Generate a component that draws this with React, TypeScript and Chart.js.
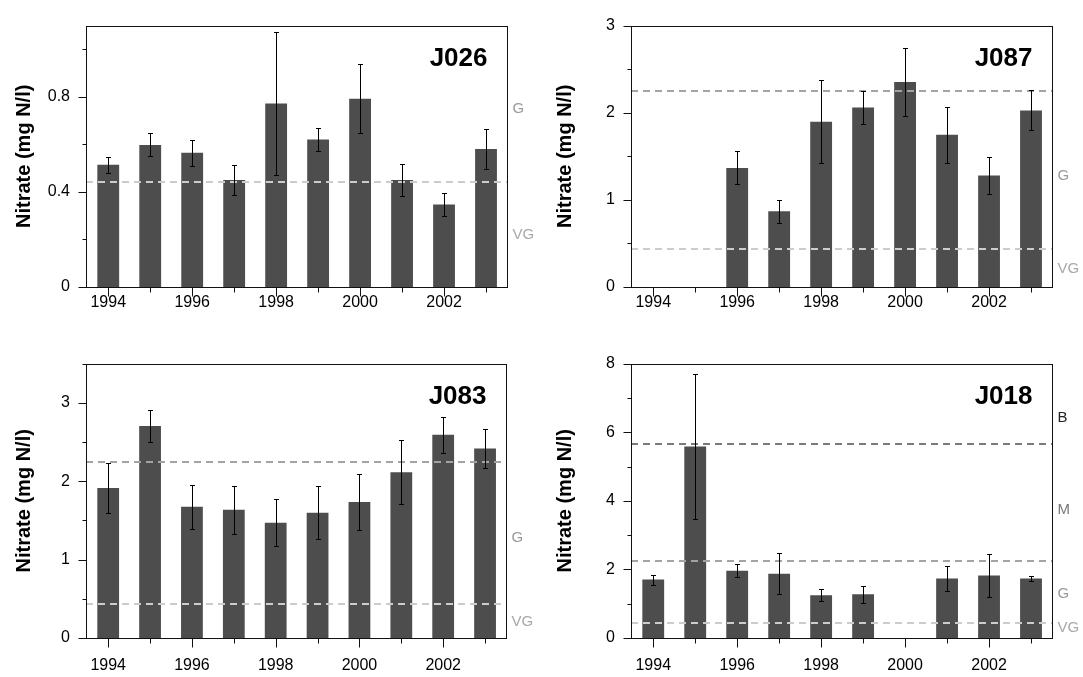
import React, { useEffect, useRef } from "react";
import { Chart, registerables } from "chart.js";

Chart.register(...registerables);

// ---------- data ----------
const years = [1994, 1995, 1996, 1997, 1998, 1999, 2000, 2001, 2002, 2003];
const labeledYears = [1994, 1996, 1998, 2000, 2002];

const j026Mean = [0.514, 0.598, 0.565, 0.45, 0.772, 0.621, 0.792, 0.45, 0.347, 0.581];
const j026Err = [0.033, 0.048, 0.054, 0.063, 0.3, 0.05, 0.145, 0.066, 0.049, 0.085];

const j087Mean = [null, null, 1.367, 0.869, 1.897, 2.06, 2.352, 1.746, 1.28, 2.027];
const j087Err = [null, null, 0.19, 0.133, 0.476, 0.186, 0.39, 0.325, 0.215, 0.23];

const j083Mean = [1.913, 2.705, 1.673, 1.635, 1.47, 1.597, 1.736, 2.115, 2.592, 2.418];
const j083Err = [0.32, 0.2, 0.28, 0.31, 0.3, 0.34, 0.36, 0.41, 0.23, 0.245];

const j018Mean = [1.704, 5.583, 1.963, 1.876, 1.244, 1.273, null, 1.733, 1.819, 1.733];
const j018Err = [0.145, 2.12, 0.19, 0.6, 0.17, 0.25, null, 0.36, 0.62, 0.08];

// class boundaries (VG/G, G/M, M/B)
const classLimits = [0.44, 2.25, 5.65];
const classLimitColors = ["#cccccc", "#a3a3a3", "#7a7a7a"];

// class labels on right side: text and value where they sit
const j026ClassText = ["G", "VG"];
const j026ClassAt = [0.75, 0.22];
const j087ClassText = ["G", "VG"];
const j087ClassAt = [1.27, 0.21];
const j083ClassText = ["G", "VG"];
const j083ClassAt = [1.28, 0.21];
const j018ClassText = ["B", "M", "G", "VG"];
const j018ClassAt = [6.42, 3.74, 1.29, 0.29];
const classTextColors: Record<string, string> = { B: "#222222", M: "#777777", G: "#9a9a9a", VG: "#a8a8a8" };

// y ticks
const j026YMajor = [0, 0.4, 0.8];
const j026YMinor = [0.2, 0.6, 1.0];
const j087YMajor = [0, 1, 2, 3];
const j087YMinor = [0.5, 1.5, 2.5];
const j083YMajor = [0, 1, 2, 3];
const j083YMinor = [0.5, 1.5, 2.5, 3.5];
const j018YMajor = [0, 2, 4, 6, 8];
const j018YMinor = [1, 3, 5, 7];

const yMaxes = [1.1, 3, 3.5, 8];
const stationNames = ["J026", "J087", "J083", "J018"];
const yTitle = "Nitrate (mg N/l)";

const FONT = "'Liberation Sans', Arial, Helvetica, sans-serif";
const BAR = "#4d4d4d";

type Panel = {
  name: string;
  mean: (number | null)[];
  err: (number | null)[];
  yMax: number;
  yMajor: number[];
  yMinor: number[];
  classText: string[];
  classAt: number[];
  cx: number;
  cy: number;
  cw: number;
  ch: number;
  padTop: number;
  padRight: number;
  yAxisW: number;
  xAxisH: number;
  xPad: number;
};

const PANELS: Panel[] = [
  {
    name: stationNames[0], mean: j026Mean, err: j026Err, yMax: yMaxes[0],
    yMajor: j026YMajor, yMinor: j026YMinor, classText: j026ClassText, classAt: j026ClassAt,
    cx: 0, cy: 0, cw: 541, ch: 338, padTop: 10, padRight: 34, yAxisW: 86, xAxisH: 51, xPad: 6,
  },
  {
    name: stationNames[1], mean: j087Mean, err: j087Err, yMax: yMaxes[1],
    yMajor: j087YMajor, yMinor: j087YMinor, classText: j087ClassText, classAt: j087ClassAt,
    cx: 541, cy: 0, cw: 542, ch: 338, padTop: 10, padRight: 31, yAxisW: 90, xAxisH: 51, xPad: 6,
  },
  {
    name: stationNames[2], mean: j083Mean, err: j083Err, yMax: yMaxes[2],
    yMajor: j083YMajor, yMinor: j083YMinor, classText: j083ClassText, classAt: j083ClassAt,
    cx: 0, cy: 338, cw: 541, ch: 339, padTop: 23, padRight: 35, yAxisW: 86, xAxisH: 39, xPad: 18,
  },
  {
    name: stationNames[3], mean: j018Mean, err: j018Err, yMax: yMaxes[3],
    yMajor: j018YMajor, yMinor: j018YMinor, classText: j018ClassText, classAt: j018ClassAt,
    cx: 541, cy: 338, cw: 542, ch: 339, padTop: 22, padRight: 31, yAxisW: 90, xAxisH: 39, xPad: 18,
  },
];

function overlayPlugin(p: Panel) {
  return {
    id: "overlay" + p.name,
    afterDatasetsDraw(chart: any) {
      const ctx = chart.ctx as CanvasRenderingContext2D;
      const { left, right } = chart.chartArea;
      const xs = chart.scales.x;
      const ys = chart.scales.y;
      ctx.save();
      ctx.lineWidth = 2;
      ctx.setLineDash([7, 5]);
      classLimits.forEach((lim, i) => {
        if (lim >= p.yMax) return;
        const y = Math.round(ys.getPixelForValue(lim));
        ctx.strokeStyle = classLimitColors[i];
        ctx.beginPath();
        ctx.moveTo(left, y);
        ctx.lineTo(right, y);
        ctx.stroke();
      });
      ctx.setLineDash([]);
      ctx.strokeStyle = "#000";
      ctx.lineWidth = 1;
      years.forEach((yr, i) => {
        const m = p.mean[i];
        const e = p.err[i];
        if (m == null || e == null) return;
        const x = Math.round(xs.getPixelForValue(yr)) + 0.5;
        const yt = Math.round(ys.getPixelForValue(m + e)) + 0.5;
        const yb = Math.round(ys.getPixelForValue(m - e)) + 0.5;
        ctx.beginPath();
        ctx.moveTo(x, yt);
        ctx.lineTo(x, yb);
        ctx.moveTo(x - 2.5, yt);
        ctx.lineTo(x + 2.5, yt);
        ctx.moveTo(x - 2.5, yb);
        ctx.lineTo(x + 2.5, yb);
        ctx.stroke();
      });
      ctx.restore();
    },
    afterDraw(chart: any) {
      const ctx = chart.ctx as CanvasRenderingContext2D;
      const { left, right, top, bottom } = chart.chartArea;
      const xs = chart.scales.x;
      const ys = chart.scales.y;
      ctx.save();
      ctx.strokeStyle = "#111";
      ctx.lineWidth = 1;
      const L = Math.round(left) + 0.5;
      const R = Math.round(right) + 0.5;
      const T = Math.round(top) + 0.5;
      const B = Math.round(bottom) + 0.5;
      ctx.strokeRect(L, T, R - L, B - T);
      ctx.beginPath();
      p.yMajor.forEach((v) => {
        const y = Math.round(ys.getPixelForValue(v)) + 0.5;
        ctx.moveTo(L - 8, y);
        ctx.lineTo(L, y);
      });
      p.yMinor.forEach((v) => {
        const y = Math.round(ys.getPixelForValue(v)) + 0.5;
        ctx.moveTo(L - 4, y);
        ctx.lineTo(L, y);
      });
      years.forEach((yr) => {
        const x = Math.round(xs.getPixelForValue(yr)) + 0.5;
        const len = labeledYears.includes(yr) ? 9 : 5;
        ctx.moveTo(x, B);
        ctx.lineTo(x, B + len);
      });
      ctx.stroke();
      ctx.font = `15px ${FONT}`;
      ctx.textAlign = "left";
      ctx.textBaseline = "middle";
      p.classText.forEach((t, i) => {
        ctx.fillStyle = classTextColors[t] || "#999";
        ctx.fillText(t, R + 5, ys.getPixelForValue(p.classAt[i]));
      });
      ctx.font = `bold 26px ${FONT}`;
      ctx.fillStyle = "#000";
      ctx.textAlign = "right";
      ctx.fillText(p.name, R - 20, T + 32);
      ctx.restore();
    },
  };
}

function makeConfig(p: Panel): any {
  return {
    type: "bar",
    data: {
      datasets: [
        {
          data: years.map((yr, i) => ({ x: yr, y: p.mean[i] })),
          backgroundColor: BAR,
          borderWidth: 0,
          barPercentage: 0.52,
          categoryPercentage: 1,
        },
      ],
    },
    options: {
      responsive: false,
      animation: false,
      devicePixelRatio: 1,
      layout: { padding: { left: 0, top: p.padTop, right: p.padRight, bottom: 0 } },
      plugins: {
        legend: { display: false },
        tooltip: { enabled: false },
        title: { display: false },
      },
      scales: {
        x: {
          type: "linear",
          offset: false,
          min: years[0] - 0.53,
          max: years[years.length - 1] + 0.5,
          grid: { display: false, drawTicks: false, offset: false },
          border: { display: false },
          afterBuildTicks: (s: any) => {
            s.ticks = years.map((v) => ({ value: v }));
          },
          ticks: {
            autoSkip: false,
            maxRotation: 0,
            minRotation: 0,
            padding: p.xPad,
            color: "#000",
            font: { family: FONT, size: 16 },
            callback: (v: number) => (labeledYears.includes(v) ? String(v) : ""),
          },
          afterFit: (s: any) => {
            s.height = p.xAxisH;
          },
        },
        y: {
          min: 0,
          max: p.yMax,
          grid: { display: false, drawTicks: false },
          border: { display: false },
          afterBuildTicks: (s: any) => {
            s.ticks = [...p.yMajor, ...p.yMinor].sort((a, b) => a - b).map((v) => ({ value: v }));
          },
          ticks: {
            autoSkip: false,
            padding: 16,
            color: "#000",
            font: { family: FONT, size: 16 },
            callback: (v: number) => (p.yMajor.includes(v) ? String(v) : ""),
          },
          title: {
            display: true,
            text: yTitle,
            color: "#000",
            font: { family: FONT, size: 20, weight: "bold" },
            padding: { top: 12, bottom: 0 },
          },
          afterFit: (s: any) => {
            s.width = p.yAxisW;
          },
        },
      },
    },
    plugins: [overlayPlugin(p)],
  };
}

export default function App() {
  const r0 = useRef<HTMLCanvasElement>(null);
  const r1 = useRef<HTMLCanvasElement>(null);
  const r2 = useRef<HTMLCanvasElement>(null);
  const r3 = useRef<HTMLCanvasElement>(null);
  const refs = [r0, r1, r2, r3];

  useEffect(() => {
    document.body.style.margin = "0";
    const charts = PANELS.map((p, i) => new Chart(refs[i].current as HTMLCanvasElement, makeConfig(p)));
    return () => charts.forEach((c) => c.destroy());
  }, []);

  return (
    <div style={{ position: "relative", width: 1083, height: 677, background: "#fff", overflow: "hidden" }}>
      {PANELS.map((p, i) => (
        <canvas
          key={p.name}
          ref={refs[i]}
          width={p.cw}
          height={p.ch}
          style={{ position: "absolute", left: p.cx, top: p.cy, width: p.cw, height: p.ch, display: "block" }}
        />
      ))}
    </div>
  );
}
